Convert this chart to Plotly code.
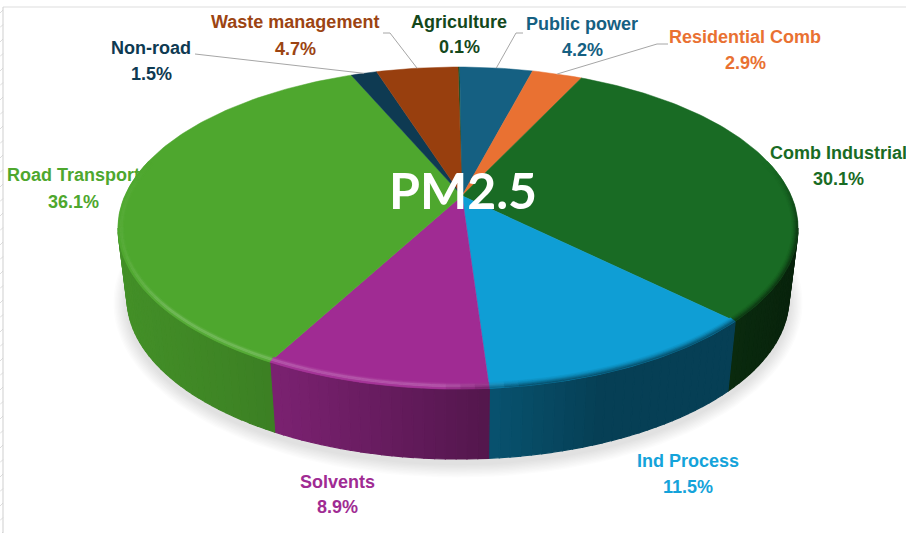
import numpy as np
import plotly.graph_objects as go

# ---- data -------------------------------------------------------------
sectors = ["Agriculture", "Public power", "Residential Comb", "Comb Industrial",
           "Ind Process", "Solvents", "Road Transport", "Non-road", "Waste management"]
shares = [0.1, 4.2, 2.9, 30.1, 11.5, 8.9, 36.1, 1.5, 4.7]
chart_title = "PM2.5"

# ---- styling ----------------------------------------------------------
top_colors = ["#14501c", "#156082", "#e97132", "#196b24", "#0f9ed5",
              "#a02b93", "#4ea72e", "#0e3a52", "#983f0e"]
label_colors = ["#14481b", "#156082", "#e97132", "#196b24", "#14a3da",
                "#a02b93", "#4ea72e", "#0e3a52", "#9c4412"]
label_xy = [(459, 22, 47), (582, 24, 50), (745, 37, 63), (838, 153, 179),
            (688, 461, 487), (337, 482, 507), (73, 175, 202), (151, 48, 74), (295, 22, 49)]
leader_start = {"Non-road": [(195, 54)],
                "Waste management": [(383, 33), (390, 33)],
                "Public power": [(523, 33), (516, 33)],
                "Residential Comb": [(668, 44), (657, 44)]}

W, H = 906, 533
CX, CY, RX, RY, K = 458.0, 228.0, 340.0, 161.0, 0.2
CX2, CY2, RX2 = 458.0, 298.0, 331.0
APEX_DX = 4.0


def rgb(h):
    return np.array([int(h[i:i + 2], 16) for i in (1, 3, 5)], float)


def css(c):
    c = np.clip(c, 0, 255).round().astype(int)
    return f"rgb({c[0]},{c[1]},{c[2]})"


def uv(theta_deg):
    t = np.radians(theta_deg)
    X, Y = np.sin(t), np.cos(t)
    D = 1 + K * Y
    return np.sqrt(1 - K ** 2) * X / D, (Y + K) / D


def top_pt(theta_deg, d=0.0):
    u, v = uv(theta_deg)
    return CX + (RX - d) * u, CY - (RY - d) * v


def low_pt(theta_deg):
    u, v = uv(theta_deg)
    return CX2 + RX2 * u, CY2 - RY * v


def poly(x, y, color, opacity=1.0, lw=1.0):
    x, y = list(x), list(y)
    return go.Scatter(x=x + x[:1], y=y + y[:1], mode="lines", fill="toself", fillcolor=color,
                      line=dict(color=color, width=lw), opacity=opacity,
                      hoverinfo="skip", showlegend=False)


fig = go.Figure()

cum = np.cumsum([0] + shares) / sum(shares) * 360.0
starts, ends = cum[:-1], cum[1:]

# soft shadow under the disc
phi = np.radians(np.arange(0, 361, 3))
for dr in np.arange(15, 0, -1.5):
    fig.add_trace(poly(CX2 + (RX2 + dr * 0.9) * np.sin(phi), CY2 + 5 + (RY + dr * 0.9) * np.cos(phi),
                       "rgb(120,120,120)", 0.022, 0))

# wall shading as a function of screen position
wall_x = [118, 280, 490, 600, 730, 800]
wall_f = [0.86, 0.76, 0.52, 0.40, 0.40, 0.32]
v_lim = np.degrees(np.arccos(-K))  # where the rim turns to the viewer

for i, name in enumerate(sectors):
    a0, a1 = max(starts[i], v_lim), min(ends[i], 360 - v_lim)
    if a1 <= a0:
        continue
    n = max(2, int((a1 - a0) / 1.5))
    grid = np.linspace(a0, a1, n + 1)
    base = rgb(top_colors[i])
    for p, q in zip(grid[:-1], grid[1:]):
        x0, y0 = top_pt(p)
        x1, y1 = top_pt(q)
        x2, y2 = low_pt(q)
        x3, y3 = low_pt(p)
        f = float(np.interp((x0 + x1) / 2, wall_x, wall_f))
        fig.add_trace(poly([x0, x1, x2, x3], [y0, y1, y2, y3], css(base * f), 1.0, 1.2))

# top faces
for i, name in enumerate(sectors):
    n = max(3, int((ends[i] - starts[i]) / 1.0))
    grid = np.linspace(starts[i], ends[i], n + 1)
    xs, ys = top_pt(grid)
    fig.add_trace(poly([CX + APEX_DX] + list(xs), [CY - RY * K] + list(ys), top_colors[i], 1.0, 0.5))

# bevel along the front rim: highlight on the left, soft dark on the right
bands = [(6.0, 4.5, 0), (4.5, 3.0, 1), (3.0, 1.5, 2), (1.5, 0.0, 3)]
bevel_light = [0.06, 0.2, 0.2, 0.05]
bevel_dark = [0.06, 0.16, 0.30, 0.45]
for i, name in enumerate(sectors):
    a0, a1 = max(starts[i], v_lim - 25), min(ends[i], 360 - v_lim + 25)
    if a1 <= a0:
        continue
    n = max(2, int((a1 - a0) / 2.0))
    grid = np.linspace(a0, a1, n + 1)
    base = rgb(top_colors[i])
    for d0, d1, b in bands:
        for p, q in zip(grid[:-1], grid[1:]):
            xa, ya = top_pt(p, d0)
            xb, yb = top_pt(q, d0)
            xc, yc = top_pt(q, d1)
            xd, yd = top_pt(p, d1)
            xm = (xa + xb) / 2
            mix = float(np.interp(xm, [118, 170, 440, 520], [0.2, 1, 1, 0]))
            dark = float(np.interp(xm, [440, 520, 800], [0, 1, 1]))
            fade = float(np.interp(min(p - (v_lim - 25), (360 - v_lim + 25) - q), [0, 25], [0, 1]))
            c = base + (255 - base) * bevel_light[b] * mix * fade
            c = c * (1 - bevel_dark[b] * dark * fade)
            fig.add_trace(poly([xa, xb, xc, xd], [ya, yb, yc, yd], css(c), 1.0, 0.4))

# leader lines
for i, name in enumerate(sectors):
    if name in leader_start:
        ex, ey = top_pt((starts[i] + ends[i]) / 2)
        pts = leader_start[name] + [(float(ex), float(ey))]
        fig.add_trace(go.Scatter(x=[p[0] for p in pts], y=[p[1] for p in pts], mode="lines",
                                 line=dict(color="#a6a6a6", width=1), hoverinfo="skip", showlegend=False))

# page furniture: hatch strip at the left edge
hy = np.arange(10, 533, 14.5)
hx_all, hy_all = [], []
for y in hy:
    hx_all += [0, 3, None]
    hy_all += [y + 3, y, None]
fig.add_trace(go.Scatter(x=hx_all, y=hy_all, mode="lines", line=dict(color="#dddddd", width=1),
                         hoverinfo="skip", showlegend=False))

annotations = []
font_family = "Liberation Sans"
for i, name in enumerate(sectors):
    x, y1, y2 = label_xy[i]
    for txt, yy in ((name, y1), (f"{shares[i]:.1f}%", y2)):
        annotations.append(dict(x=x, y=yy, xref="x", yref="y", text=txt, showarrow=False,
                                xanchor="center", yanchor="middle",
                                font=dict(family=font_family, size=18, color=label_colors[i], weight="bold")))
annotations.append(dict(x=463, y=190, xref="x", yref="y", text=chart_title, showarrow=False,
                        xanchor="center", yanchor="middle",
                        font=dict(family="Lato", size=50, color="white", weight="bold")))

fig.update_layout(
    width=W, height=H, margin=dict(l=0, r=0, t=0, b=0), autosize=False,
    paper_bgcolor="white", plot_bgcolor="white", showlegend=False,
    xaxis=dict(range=[0, W], visible=False, fixedrange=True),
    yaxis=dict(range=[H, 0], visible=False, fixedrange=True),
    annotations=annotations,
    shapes=[dict(type="line", x0=3, x1=W, y0=7, y1=7, line=dict(color="#dddddd", width=1)),
            dict(type="line", x0=3, x1=3, y0=7, y1=H, line=dict(color="#cfcfcf", width=1))],
)
fig.write_html("out.html", config={"displayModeBar": False},
               post_script="document.body.style.margin='0';document.documentElement.style.overflow='hidden';")
